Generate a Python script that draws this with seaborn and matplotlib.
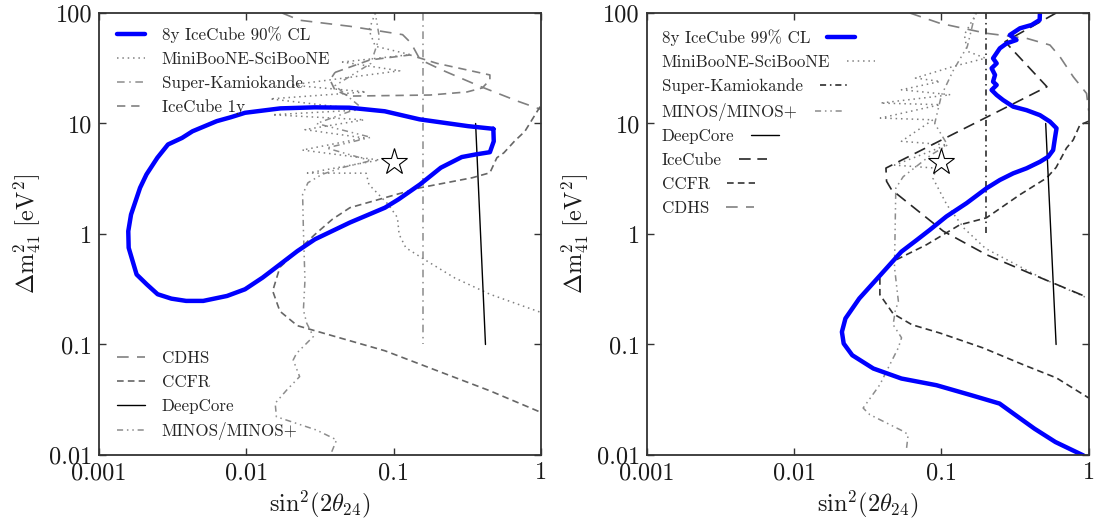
import matplotlib
matplotlib.use("Agg")
import matplotlib.pyplot as plt
from matplotlib.lines import Line2D
from matplotlib.ticker import NullLocator
import seaborn as sns

# ---------------- data: (sin^2(2theta24), dm^2_41 [eV^2]) ----------------
# left panel
ic90_x = [0.475, 0.478, 0.45, 0.361, 0.29, 0.209, 0.151, 0.108, 0.0873, 0.0505, 0.0292, 0.0222, 0.0169,
          0.0129, 0.0098, 0.0074, 0.0051, 0.0039, 0.0031, 0.0025, 0.00211, 0.0018, 0.00159, 0.00158,
          0.00165, 0.0019, 0.0021, 0.00249, 0.00294, 0.00366, 0.00431, 0.0063, 0.00786, 0.0098,
          0.017, 0.029, 0.05, 0.087, 0.15, 0.32, 0.475]
ic90_y = [8.95, 6.9, 5.5, 5.25, 4.97, 3.98, 2.81, 2.06, 1.73, 1.27, 0.895, 0.70, 0.53,
          0.403, 0.316, 0.275, 0.248, 0.248, 0.26, 0.285, 0.35, 0.43, 0.75, 1.06,
          1.5, 2.62, 3.46, 4.9, 6.46, 7.4, 8.5, 10.5, 11.4, 12.5,
          13.7, 14.0, 13.9, 12.9, 10.9, 9.46, 8.95]

mbL_x = [0.075, 0.068, 0.075, 0.13, 0.045, 0.11, 0.02, 0.065, 0.0145, 0.063, 0.015, 0.063, 0.025,
         0.063, 0.024, 0.08, 0.026, 0.065, 0.068, 0.092, 0.106, 0.109, 0.121, 0.168, 0.26, 0.45, 1.0]
mbL_y = [100, 70, 50, 42, 36, 30, 22.3, 19.3, 16.7, 13.3, 12.0, 10.8, 8.8,
         7.4, 5.75, 4.67, 3.56, 3.55, 2.8, 1.85, 1.41, 0.99, 0.75, 0.57, 0.40, 0.285, 0.195]

skL_x = [0.158, 0.158]
skL_y = [100, 0.1]

ic1y_x = [0.04, 0.069, 0.129, 0.197, 0.45, 0.45, 0.40, 0.315, 0.177, 0.05, 0.04, 0.037, 0.04]
ic1y_y = [29, 37.6, 41.7, 35, 27.5, 24.8, 21, 19.3, 18.1, 17.7, 20, 24.8, 29]

cdhsL_x = [0.0175, 0.023, 0.0505, 0.115, 0.131, 0.151, 0.209, 0.382, 0.697, 1.0]
cdhsL_y = [100, 86, 75.8, 63.7, 53.6, 37.9, 30.8, 21.8, 15.9, 13.4]

ccfrL_x = [0.986, 0.778, 0.66, 0.56, 0.502, 0.45, 0.342, 0.151, 0.0873, 0.0505, 0.0384, 0.0292, 0.0222,
           0.0169, 0.0151, 0.0169, 0.0222, 0.0384, 0.0873, 0.198, 0.45, 1.0]
ccfrL_y = [14.2, 8.5, 6.9, 5.43, 4.9, 3.58, 3.23, 2.62, 2.13, 1.73, 1.36, 0.99, 0.70,
           0.50, 0.305, 0.20, 0.148, 0.12, 0.0877, 0.0578, 0.0381, 0.0243]

dcL_x = [0.36, 0.42]
dcL_y = [10, 0.1]

minosL_x = [0.038, 0.041, 0.030, 0.016, 0.0157, 0.0188, 0.023, 0.0208, 0.0219, 0.0285, 0.0257, 0.0244,
            0.025, 0.0244, 0.0241, 0.0262, 0.0326, 0.045, 0.07, 0.035, 0.07, 0.03, 0.06, 0.04, 0.07,
            0.08, 0.075]
minosL_y = [0.0107, 0.0137, 0.0168, 0.0222, 0.0294, 0.0387, 0.0512, 0.0724, 0.083, 0.118, 0.156, 0.205,
            0.38, 1.09, 2.28, 2.91, 3.46, 4.0, 4.6, 6.0, 7.5, 10, 14, 22, 35,
            60, 100]

# right panel
ic99_x = [0.466, 0.464, 0.409, 0.341, 0.291, 0.323, 0.277, 0.249, 0.224, 0.237, 0.219, 0.231, 0.224,
          0.237, 0.219, 0.237, 0.262, 0.307, 0.378, 0.466, 0.545, 0.604, 0.589, 0.573, 0.53, 0.466,
          0.378, 0.307, 0.249, 0.202, 0.148, 0.108, 0.0834, 0.0678, 0.0535, 0.0385, 0.0277, 0.0223,
          0.0211, 0.0217, 0.0248, 0.0345, 0.0535, 0.0925, 0.16, 0.248, 0.308, 0.428, 0.594, 0.92]
ic99_y = [100, 86.5, 77.9, 72.7, 63.2, 57, 53.1, 47.9, 38.9, 35, 31.6, 27.5, 23.9,
          22.3, 20.1, 18.1, 16.3, 14.2, 13.2, 11.9, 10.4, 9.05, 7.35, 5.75, 5.0, 4.5,
          3.93, 3.54, 3.08, 2.59, 1.9, 1.44, 1.09, 0.88, 0.692, 0.425, 0.261, 0.172,
          0.130, 0.102, 0.080, 0.0606, 0.0492, 0.0428, 0.0347, 0.0292, 0.0237, 0.0173, 0.0131, 0.0099]

mbR_x = [0.173, 0.143, 0.15, 0.199, 0.121, 0.0666, 0.098, 0.0535, 0.115, 0.0385, 0.098, 0.0385, 0.0875,
         0.0535, 0.109, 0.048, 0.0925, 0.0875, 0.109, 0.143, 0.199, 0.477, 1.0]
mbR_y = [100, 63.6, 45, 39, 32.9, 25.8, 24.0, 20.2, 18.2, 15.3, 14.8, 11.2, 10.8,
         6.9, 6.4, 4.2, 3.94, 3.2, 1.83, 1.12, 0.74, 0.40, 0.26]

skR_x = [0.2, 0.2]
skR_y = [100, 1.0]

minosR_x = [0.058, 0.0594, 0.055, 0.0326, 0.0294, 0.0382, 0.0446, 0.0509, 0.0536, 0.047, 0.0485, 0.051,
            0.048, 0.049, 0.055, 0.085, 0.11, 0.09, 0.10, 0.12, 0.15, 0.17]
minosR_y = [0.0116, 0.0153, 0.0164, 0.0232, 0.0266, 0.0433, 0.0656, 0.093, 0.115, 0.151, 0.2, 0.246,
            0.5, 2.6, 3.3, 5.2, 6.4, 10, 18, 30, 50, 100]

dcR_x = [0.51, 0.60]
dcR_y = [10, 0.1]

icR_x = [0.6, 0.27, 0.52, 0.042, 0.0424, 0.0458, 0.103, 0.202, 0.42, 1.0]
icR_y = [100, 55, 21.5, 3.95, 3.0, 2.52, 1.06, 0.65, 0.428, 0.264]

ccfrR_x = [1.0, 0.87, 0.784, 0.706, 0.6, 0.517, 0.341, 0.202, 0.133, 0.0792, 0.047, 0.0382, 0.0382,
           0.047, 0.063, 0.0975, 0.192, 0.359, 0.604, 1.0]
ccfrR_y = [10.5, 9.7, 7.1, 6.0, 4.0, 3.21, 2.27, 1.40, 1.21, 0.80, 0.566, 0.428, 0.282,
           0.19, 0.151, 0.127, 0.093, 0.0656, 0.0498, 0.0328]

cdhsR_x = [0.061, 0.0976, 0.202, 0.378, 0.545, 0.637, 0.784, 0.966, 0.99, 1.0]
cdhsR_y = [100, 80.7, 65.5, 59, 51.3, 40.2, 26.5, 18.7, 14.2, 13]

star_x = [0.1]
star_y = [4.5]

xticks = [0.001, 0.01, 0.1, 1]
xtick_labels = ['0.001', '0.01', '0.1', '1']
yticks = [0.01, 0.1, 1, 10, 100]
ytick_labels = ['0.01', '0.1', '1', '10', '100']

# ---------------- styles ----------------
sns.set_style("ticks")
plt.rcParams['font.family'] = ['cmr10', 'DejaVu Serif']
plt.rcParams['mathtext.fontset'] = 'cm'
plt.rcParams['axes.unicode_minus'] = False
plt.rcParams['axes.formatter.use_mathtext'] = True

BLUE = '#0000ff'
st = {
    'ic':    dict(color=BLUE, lw=3.2, ls='-'),
    'mb':    dict(color='0.5', lw=1.1, ls=(0, (1, 2.5))),
    'skL':   dict(color='0.55', lw=1.1, ls=(0, (5, 3, 1, 3))),
    'skR':   dict(color='0.1', lw=1.1, ls=(0, (4, 2.5, 1, 2.5))),
    'ic1y':  dict(color='0.5', lw=1.2, ls=(0, (5, 3.5))),
    'cdhs':  dict(color='0.5', lw=1.2, ls=(0, (7, 5))),
    'ccfrL': dict(color='0.4', lw=1.2, ls=(0, (4, 2.5))),
    'ccfrR': dict(color='0.2', lw=1.2, ls=(0, (4, 2.5))),
    'icR':   dict(color='0.15', lw=1.2, ls=(0, (7, 4))),
    'dc':    dict(color='k', lw=1.0, ls='-'),
    'minos': dict(color='0.55', lw=1.1, ls=(0, (4, 2.5, 1, 2.5, 1, 2.5))),
}


def draw(ax, xs, ys, key):
    s = st[key]
    sns.lineplot(x=xs, y=ys, sort=False, estimator=None, ax=ax, color=s['color'],
                 linewidth=s['lw'], linestyle=s['ls'], legend=False)


def handle(key):
    s = st[key]
    return Line2D([], [], color=s['color'], lw=s['lw'], ls=s['ls'])


fig = plt.figure(figsize=(11, 5.24), dpi=100)
axL = fig.add_axes([0.09, 0.1317, 0.4018, 0.8435])
axR = fig.add_axes([0.588, 0.1317, 0.4018, 0.8435])

# left panel
draw(axL, mbL_x, mbL_y, 'mb')
draw(axL, minosL_x, minosL_y, 'minos')
draw(axL, skL_x, skL_y, 'skL')
draw(axL, ic1y_x, ic1y_y, 'ic1y')
draw(axL, cdhsL_x, cdhsL_y, 'cdhs')
draw(axL, ccfrL_x, ccfrL_y, 'ccfrL')
draw(axL, dcL_x, dcL_y, 'dc')
draw(axL, ic90_x, ic90_y, 'ic')

# right panel
draw(axR, mbR_x, mbR_y, 'mb')
draw(axR, minosR_x, minosR_y, 'minos')
draw(axR, skR_x, skR_y, 'skR')
draw(axR, icR_x, icR_y, 'icR')
draw(axR, cdhsR_x, cdhsR_y, 'cdhs')
draw(axR, ccfrR_x, ccfrR_y, 'ccfrR')
draw(axR, dcR_x, dcR_y, 'dc')
draw(axR, ic99_x, ic99_y, 'ic')

for ax in (axL, axR):
    ax.plot(star_x, star_y, marker='*', ms=20, mfc='white', mec='k', mew=0.8, ls='none', zorder=5)
    ax.set_xscale('log')
    ax.set_yscale('log')
    ax.set_xlim(0.001, 1)
    ax.set_ylim(0.01, 100)
    ax.set_xticks(xticks, xtick_labels)
    ax.set_yticks(yticks, ytick_labels)
    ax.xaxis.set_minor_locator(NullLocator())
    ax.yaxis.set_minor_locator(NullLocator())
    ax.tick_params(which='major', direction='in', top=True, right=True, length=5, width=1,
                   labelsize=17.5, pad=5, color='0.2', labelcolor='0.1')
    for sp in ax.spines.values():
        sp.set_color('0.2')
        sp.set_linewidth(1.3)
    ax.set_xlabel(r'$\mathrm{sin}^2(2\theta_{24})$', fontsize=17.5, color='0.1', labelpad=3)
    ax.set_ylabel(r'$\Delta\mathrm{m}^2_{41}\ [\mathrm{eV}^2]$', fontsize=17.5, color='0.1', labelpad=4)

leg_kw = dict(frameon=False, fontsize=12.2, handlelength=1.65, handletextpad=1.0,
              labelspacing=0.5, borderpad=0, borderaxespad=0)

leg1 = axL.legend([handle('ic'), handle('mb'), handle('skL'), handle('ic1y')],
                  ['8y IceCube 90% CL', 'MiniBooNE-SciBooNE', 'Super-Kamiokande', 'IceCube 1y'],
                  loc='upper left', bbox_to_anchor=(0.04, 0.970), **leg_kw)
axL.add_artist(leg1)
axL.legend([handle('cdhs'), handle('ccfrL'), handle('dc'), handle('minos')],
           ['CDHS', 'CCFR', 'DeepCore', 'MINOS/MINOS+'],
           loc='upper left', bbox_to_anchor=(0.04, 0.236), **leg_kw)

legR = axR.legend([handle('ic'), handle('mb'), handle('skR'), handle('minos'), handle('dc'),
                   handle('icR'), handle('ccfrR'), handle('cdhs')],
                  ['8y IceCube 99% CL', 'MiniBooNE-SciBooNE', 'Super-Kamiokande', 'MINOS/MINOS+',
                   'DeepCore', 'IceCube', 'CCFR', 'CDHS'],
                  loc='upper left', bbox_to_anchor=(0.034, 0.963), markerfirst=False, **leg_kw)
# rows start at the same x, handles follow each label
for col in legR._legend_handle_box.get_children():
    col.align = 'left'

fig.savefig('out.png', dpi=100)
